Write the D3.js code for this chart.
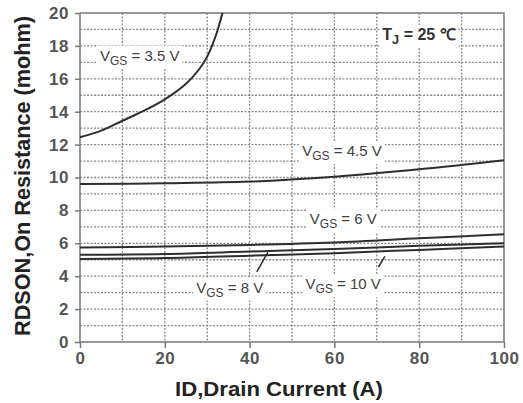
<!DOCTYPE html>
<html>
<head>
<meta charset="utf-8">
<script src="https://cdn.jsdelivr.net/npm/d3@7"></script>
<style>
  body { margin: 0; background: #fff; }
  svg { font-family: "Liberation Sans", Arial, sans-serif; }
  .grid line { stroke: #8a8a8a; stroke-width: 1.3; stroke-dasharray: 2,1.5; }
  .axis text { font-weight: bold; fill: #555; font-size: 17px; letter-spacing: 0.6px; }
  .axis path, .axis line { stroke: #777; stroke-width: 1.5; }
</style>
</head>
<body>
<svg width="523" height="403"></svg>
<script>
// данные кривых
let xs35 = [0, 5, 10, 15, 20, 25, 28, 30, 32, 33.6];
let ys35 = [12.45, 12.85, 13.45, 14.05, 14.75, 15.7, 16.55, 17.35, 18.6, 20];
let xsId = [0, 20, 40, 60, 80, 100];
let ys45 = [9.6, 9.65, 9.75, 10.05, 10.5, 11.05];
let ys6 = [5.75, 5.8, 5.9, 6.05, 6.3, 6.55];
let ys8 = [5.3, 5.35, 5.5, 5.65, 5.85, 6.0];
let ys10 = [5.05, 5.1, 5.25, 5.4, 5.6, 5.8];

let xTicks = [0, 20, 40, 60, 80, 100];
let yTicks = [0, 2, 4, 6, 8, 10, 12, 14, 16, 18, 20];

// подписи: [текст до индекса, индекс, текст после, x, y]
let labels = [
  ["V", "GS", " = 3.5 V", 4.7, 17.1],
  ["V", "GS", " = 4.5 V", 52.4, 11.3],
  ["V", "GS", " = 6 V", 54.2, 7.15],
  ["V", "GS", " = 8 V", 27.4, 3.0],
  ["V", "GS", " = 10 V", 53.2, 3.2]
];
// выноски для 8 V и 10 V
let leaders = [
  [[41.7, 4.27], [44.3, 5.45]],
  [[70.4, 4.56], [71.9, 5.2]]
];

let mLeft = 80, mRight = 504, mTop = 13, mBottom = 342;
let svg = d3.select("svg");

let scaleX = d3.scaleLinear().domain([0, 100]).range([mLeft, mRight]);
let scaleY = d3.scaleLinear().domain([0, 20]).range([mBottom, mTop]);

// сетка
let grid = svg.append("g").attr("class", "grid");
grid.selectAll(".gx")
  .data(d3.range(10, 100, 10))
  .enter()
  .append("line")
  .attr("x1", d => scaleX(d)).attr("x2", d => scaleX(d))
  .attr("y1", mTop).attr("y2", mBottom);
grid.selectAll(".gy")
  .data(d3.range(1, 20, 1))
  .enter()
  .append("line")
  .attr("x1", mLeft).attr("x2", mRight)
  .attr("y1", d => scaleY(d)).attr("y2", d => scaleY(d));

// подписи с белым фоном
function addLabel(g, a, sub, b, x, y, size, weight, fill) {
  let t = g.append("text")
    .attr("x", scaleX(x)).attr("y", scaleY(y))
    .attr("font-size", size).attr("font-weight", weight)
    .attr("fill", fill);
  t.append("tspan").text(a);
  t.append("tspan").text(sub).attr("font-size", size * 0.8).attr("dy", 4);
  t.append("tspan").text(b).attr("dy", -4);
  let bb = t.node().getBBox();
  g.insert("rect", "text")
    .attr("x", bb.x - 3).attr("y", bb.y - 1)
    .attr("width", bb.width + 6).attr("height", bb.height + 2)
    .attr("fill", "#fff");
}
let lab = svg.append("g");
labels.forEach(d => {
  let g = lab.append("g");
  addLabel(g, d[0], d[1], d[2], d[3], d[4], 15, "normal", "#404040");
});
addLabel(lab.append("g"), "T", "J", " = 25 ℃", 71.3, 18.35, 16, "bold", "#333");

// оси
let axisX = d3.axisBottom(scaleX).tickValues(xTicks).tickSize(6).tickPadding(4);
svg.append("g")
  .attr("class", "axis")
  .attr("transform", `translate(0, ${mBottom})`)
  .call(axisX)
  .call(g => g.select(".domain").attr("d", `M${mLeft},0H${mRight}`));

let axisY = d3.axisLeft(scaleY).tickValues(yTicks).tickSize(5).tickPadding(6);
svg.append("g")
  .attr("class", "axis")
  .attr("transform", `translate(${mLeft}, 0)`)
  .call(axisY)
  .call(g => g.select(".domain").attr("d", `M0,${mBottom}V${mTop}`));

// рамка
svg.append("path")
  .attr("d", `M${mLeft},${mTop}H${mRight}V${mBottom}`)
  .attr("fill", "none").attr("stroke", "#777").attr("stroke-width", 1.5);

// кривые
let line = d3.line()
  .x(d => scaleX(d[0]))
  .y(d => scaleY(d[1]))
  .curve(d3.curveCatmullRom.alpha(0.5));
let series = [
  d3.zip(xs35, ys35),
  d3.zip(xsId, ys45),
  d3.zip(xsId, ys6),
  d3.zip(xsId, ys8),
  d3.zip(xsId, ys10)
];
svg.append("g").selectAll("path")
  .data(series)
  .enter()
  .append("path")
  .attr("d", line)
  .attr("fill", "none")
  .attr("stroke", "#2e2e2e")
  .attr("stroke-width", 2);

svg.append("g").selectAll("line")
  .data(leaders)
  .enter()
  .append("line")
  .attr("x1", d => scaleX(d[0][0])).attr("y1", d => scaleY(d[0][1]))
  .attr("x2", d => scaleX(d[1][0])).attr("y2", d => scaleY(d[1][1]))
  .attr("stroke", "#2e2e2e").attr("stroke-width", 1.5);

// названия осей
svg.append("text")
  .attr("x", 279).attr("y", 396)
  .attr("text-anchor", "middle")
  .attr("font-size", 21).attr("font-weight", "bold")
  .attr("fill", "#222")
  .attr("textLength", 208).attr("lengthAdjust", "spacingAndGlyphs")
  .text("ID,Drain Current (A)");

svg.append("text")
  .attr("transform", "translate(30, 176) rotate(-90)")
  .attr("text-anchor", "middle")
  .attr("font-size", 22).attr("font-weight", "bold")
  .attr("fill", "#222")
  .attr("textLength", 320).attr("lengthAdjust", "spacingAndGlyphs")
  .text("RDSON,On Resistance (mohm)");
</script>
</body>
</html>
